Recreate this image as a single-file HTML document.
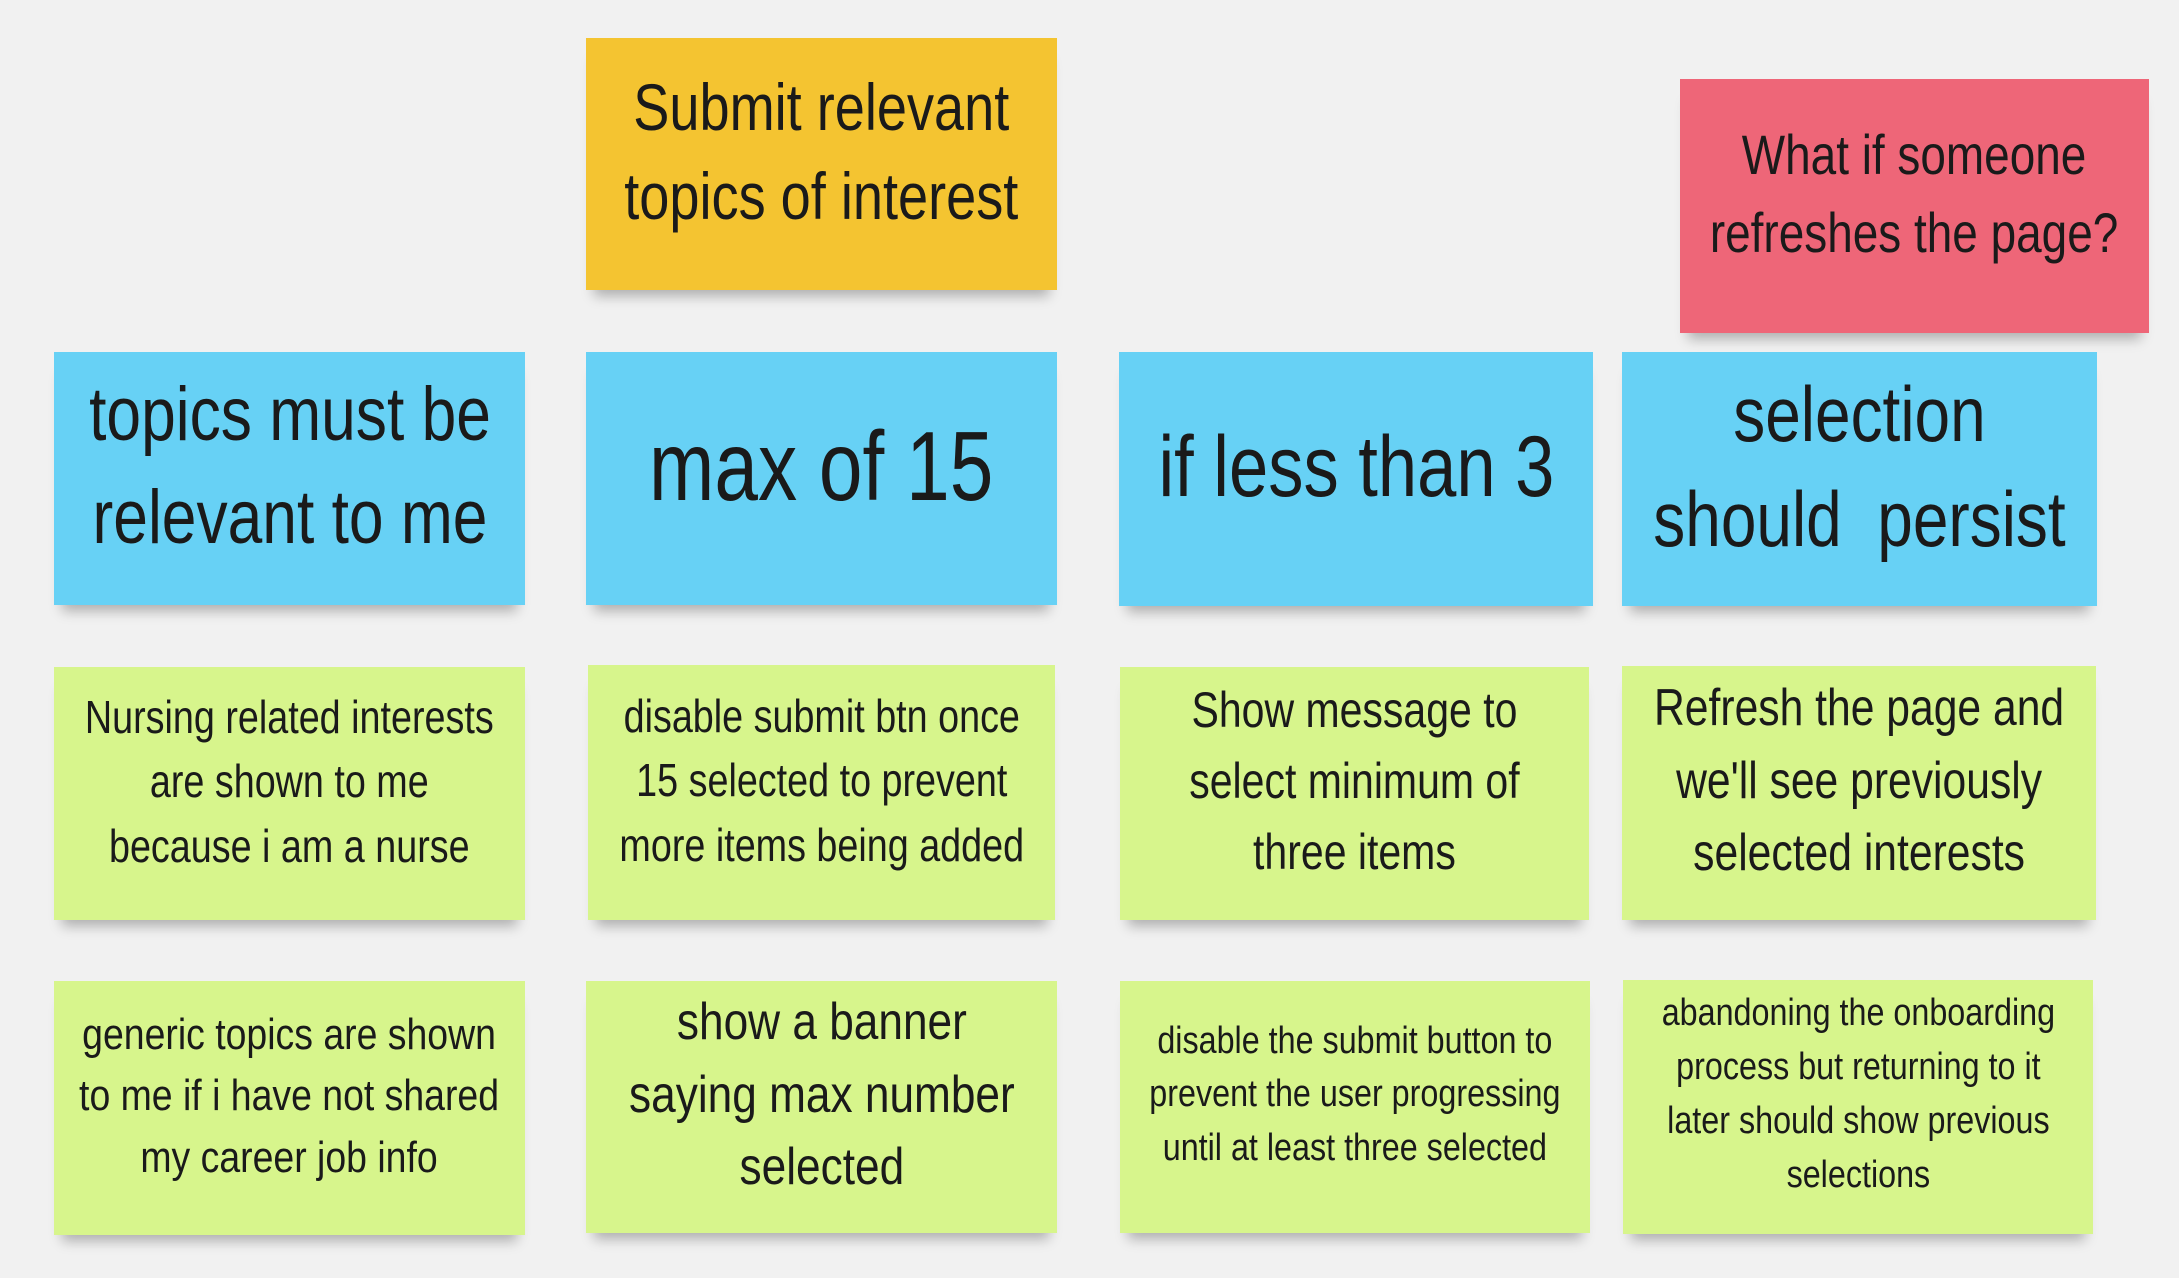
<!DOCTYPE html>
<html><head><meta charset="utf-8"><style>
html,body{margin:0;padding:0;}
body{width:2179px;height:1278px;background:#f1f1f1;position:relative;overflow:hidden;
font-family:"Liberation Sans",sans-serif;color:#1a1a1a;}
.s{position:absolute;display:flex;align-items:center;justify-content:center;text-align:center;
box-sizing:border-box;padding-bottom:24px;box-shadow:0 14px 12px -8px rgba(0,0,0,0.28);line-height:1.22;white-space:nowrap;}
.s span{display:inline-block;transform:scaleX(0.82);}
.y{background:#f4c431;}
.r{background:#ee6678;}
.b{background:#67d1f5;}
.g{background:#d7f58c;}
</style></head><body>
<div class="s y" style="left:586px;top:38px;width:471px;height:252px;font-size:66px;line-height:1.35;"><span>Submit relevant<br>topics of interest</span></div>
<div class="s r" style="left:1680px;top:79px;width:469px;height:254px;font-size:56px;line-height:1.4;"><span>What if someone<br>refreshes the page?</span></div>

<div class="s b" style="left:54px;top:352px;width:471px;height:253px;font-size:76px;line-height:1.35;"><span>topics must be<br>relevant to me</span></div>
<div class="s b" style="left:586px;top:352px;width:471px;height:253px;font-size:98px;"><span style="transform:scaleX(0.8)">max of 15</span></div>
<div class="s b" style="left:1119px;top:352px;width:474px;height:254px;font-size:86px;"><span>if less than 3</span></div>
<div class="s b" style="left:1622px;top:352px;width:475px;height:254px;font-size:78px;line-height:1.35;"><span>selection<br>should&nbsp; persist</span></div>

<div class="s g" style="left:54px;top:667px;width:471px;height:253px;font-size:46px;line-height:1.4;"><span>Nursing related interests<br>are shown to me<br>because i am a nurse</span></div>
<div class="s g" style="left:588px;top:665px;width:467px;height:255px;font-size:46px;line-height:1.4;"><span>disable submit btn once<br>15 selected to prevent<br>more items being added</span></div>
<div class="s g" style="left:1120px;top:667px;width:469px;height:253px;font-size:50px;line-height:1.42;"><span>Show message to<br>select minimum of<br>three items</span></div>
<div class="s g" style="left:1622px;top:666px;width:474px;height:254px;font-size:52px;line-height:1.4;"><span>Refresh the page and<br>we'll see previously<br>selected interests</span></div>

<div class="s g" style="left:54px;top:981px;width:471px;height:254px;font-size:44px;line-height:1.4;"><span style="transform:scaleX(0.85)">generic topics are shown<br>to me if i have not shared<br>my career job info</span></div>
<div class="s g" style="left:586px;top:981px;width:471px;height:252px;font-size:52px;line-height:1.4;"><span style="transform:scaleX(0.85)">show a banner<br>saying max number<br>selected</span></div>
<div class="s g" style="left:1120px;top:981px;width:470px;height:252px;font-size:38px;line-height:1.4;"><span style="transform:scaleX(0.85)">disable the submit button to<br>prevent the user progressing<br>until at least three selected</span></div>
<div class="s g" style="left:1623px;top:980px;width:470px;height:254px;font-size:38px;line-height:1.42;"><span style="transform:scaleX(0.85)">abandoning the onboarding<br>process but returning to it<br>later should show previous<br>selections</span></div>
</body></html>
